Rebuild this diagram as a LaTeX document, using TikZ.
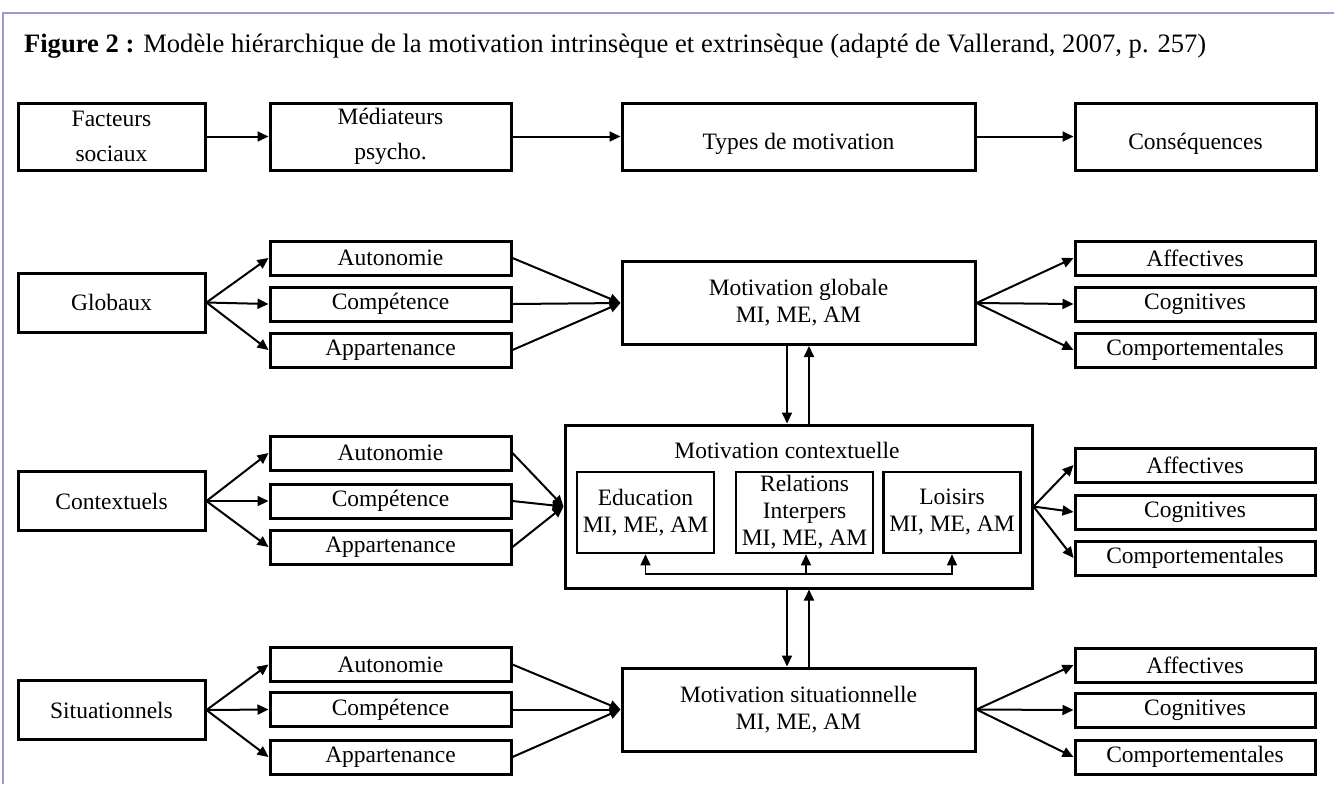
\documentclass[tikz,border=0pt]{standalone}
\usepackage{fontspec}
\setmainfont{Liberation Serif}
\usetikzlibrary{arrows.meta}
\definecolor{framelav}{RGB}{155,155,208}
\tikzset{
  box/.style={draw, line width=1.5pt, align=center, inner sep=0pt},
  head/.style={box, minimum height=33.5pt, font=\fontsize{11.75}{17.5}\selectfont},
  lowtext/.style={text height=15pt, text depth=2pt},
  cause/.style={box, minimum width=93.5pt, minimum height=29.5pt},
  need/.style={box, minimum width=120.5pt, minimum height=17pt},
  effect/.style={box, minimum width=120pt, minimum height=17pt},
  level/.style={box, minimum width=176.5pt, minimum height=41.5pt},
  sphere/.style={box, line width=1.3pt, minimum width=68.5pt, minimum height=40.5pt},
  arr/.style={line width=1pt, -{Triangle[length=5.5pt,width=5pt]}},
  link/.style={line width=0.8pt, -{Triangle[length=5.5pt,width=5pt]}},
}
\begin{document}
\begin{tikzpicture}[x=0.5pt, y=-0.5pt, font=\fontsize{11.75}{13.5}\selectfont]
  \useasboundingbox (0,0) rectangle (1334,784);
  \draw[framelav, line width=1.2pt] (3,784) -- (3,13) -- (1334,13);
  \node[anchor=base west, font=\fontsize{13.3}{16}\selectfont] (title) at (17,52) {\textbf{Figure 2 :} Modèle hiérarchique de la motivation intrinsèque et extrinsèque (adapté de Vallerand, 2007, p. 257)};

  % top row
  \node[head, minimum width=93.5pt] (fac) at (111.5,136.5) {Facteurs\\sociaux};
  \node[head, minimum width=120.5pt] (med) at (390.5,136.5) {Médiateurs\\psycho.};
  \node[head, lowtext, minimum width=176.5pt] (typ) at (798.5,136.5) {Types de motivation};
  \node[head, lowtext, minimum width=120.5pt] (cons) at (1195.5,136.5) {Conséquences};
  \draw[arr] (fac) -- (med);
  \draw[arr] (med) -- (typ);
  \draw[arr] (typ) -- (cons);

  % global level
  \node[cause] (glob) at (111.5,302.5) {Globaux};
  \node[need] (aut1) at (390.5,258) {Autonomie};
  \node[need] (comp1) at (390.5,304) {Compétence};
  \node[need] (app1) at (390.5,350) {Appartenance};
  \node[level] (mglob) at (798.5,303) {Motivation globale\\MI, ME, AM};
  \node[effect] (aff1) at (1195,258) {Affectives};
  \node[effect] (cog1) at (1195,304) {Cognitives};
  \node[effect] (beh1) at (1195,350) {Comportementales};
  \draw[arr] (glob.east) -- (aut1.west);
  \draw[arr] (glob.east) -- (comp1.west);
  \draw[arr] (glob.east) -- (app1.west);
  \draw[arr] (aut1.east) -- (mglob.west);
  \draw[arr] (comp1.east) -- (mglob.west);
  \draw[arr] (app1.east) -- (mglob.west);
  \draw[arr] (mglob.east) -- (aff1.west);
  \draw[arr] (mglob.east) -- (cog1.west);
  \draw[arr] (mglob.east) -- (beh1.west);

  % contextual level
  \node[cause] (ctx) at (111.5,501) {Contextuels};
  \node[need] (aut2) at (390.5,453) {Autonomie};
  \node[need] (comp2) at (390.5,501) {Compétence};
  \node[need] (app2) at (390.5,547) {Appartenance};
  \node[box, minimum width=233.5pt, minimum height=81.5pt] (mctx) at (798.5,506.5) {};
  \node (ctxtitle) at (787,450) {Motivation contextuelle};
  \node[sphere] (edu) at (645.5,512.5) {Education\\MI, ME, AM};
  \node[sphere] (rel) at (804.5,512.5) {Relations\\Interpers\\MI, ME, AM};
  \node[sphere] (lois) at (952,512.5) {Loisirs\\MI, ME, AM};
  \node[effect] (aff2) at (1195,465) {Affectives};
  \node[effect] (cog2) at (1195,512) {Cognitives};
  \node[effect] (beh2) at (1195,558) {Comportementales};
  \draw[arr] (ctx.east) -- (aut2.west);
  \draw[arr] (ctx.east) -- (comp2.west);
  \draw[arr] (ctx.east) -- (app2.west);
  \draw[arr] (aut2.east) -- (mctx.west);
  \draw[arr] (comp2.east) -- (mctx.west);
  \draw[arr] (app2.east) -- (mctx.west);
  \draw[arr] (mctx.east) -- (aff2.west);
  \draw[arr] (mctx.east) -- (cog2.west);
  \draw[arr] (mctx.east) -- (beh2.west);
  \coordinate (hub) at (806,574);
  \draw[link] (hub) -| (edu.south);
  \draw[link] (hub) -| (lois.south);
  \draw[link] (hub) -- (hub |- rel.south);

  % situational level
  \node[cause] (sit) at (111.5,710) {Situationnels};
  \node[need] (aut3) at (390.5,664.5) {Autonomie};
  \node[need] (comp3) at (390.5,709.5) {Compétence};
  \node[need] (app3) at (390.5,757) {Appartenance};
  \node[level] (msit) at (798.5,709.5) {Motivation situationnelle\\MI, ME, AM};
  \node[effect] (aff3) at (1195,665) {Affectives};
  \node[effect] (cog3) at (1195,710) {Cognitives};
  \node[effect] (beh3) at (1195,757) {Comportementales};
  \draw[arr] (sit.east) -- (aut3.west);
  \draw[arr] (sit.east) -- (comp3.west);
  \draw[arr] (sit.east) -- (app3.west);
  \draw[arr] (aut3.east) -- (msit.west);
  \draw[arr] (comp3.east) -- (msit.west);
  \draw[arr] (app3.east) -- (msit.west);
  \draw[arr] (msit.east) -- (aff3.west);
  \draw[arr] (msit.east) -- (cog3.west);
  \draw[arr] (msit.east) -- (beh3.west);

  % links between levels
  \draw[arr] ([xshift=-5.75pt]mglob.south) -- ([xshift=-5.75pt]mctx.north);
  \draw[arr] ([xshift=5.25pt]mctx.north) -- ([xshift=5.25pt]mglob.south);
  \draw[arr] ([xshift=-5.75pt]mctx.south) -- ([xshift=-5.75pt]msit.north);
  \draw[arr] ([xshift=5.25pt]msit.north) -- ([xshift=5.25pt]mctx.south);
\end{tikzpicture}
\end{document}
